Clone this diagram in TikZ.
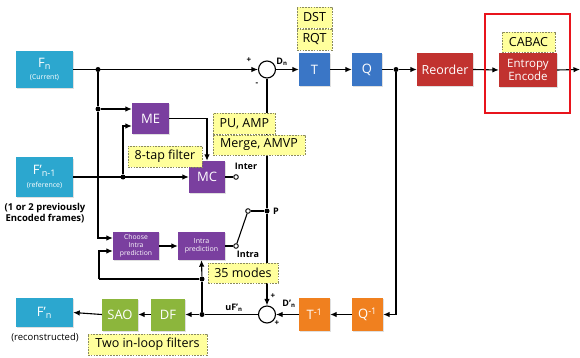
\documentclass[tikz,border=0pt]{standalone}
\usepackage{fontspec}
\setmainfont{Open Sans}
\usetikzlibrary{arrows.meta,shadows,calc}

\definecolor{cyanbox}{HTML}{2CA7CF}
\definecolor{purplebox}{HTML}{7A3F9F}
\definecolor{bluebox}{HTML}{3A76C6}
\definecolor{redbox}{HTML}{C1322F}
\definecolor{orangebox}{HTML}{F0801F}
\definecolor{greenbox}{HTML}{8CB63C}
\definecolor{notefill}{HTML}{FFFF9C}
\definecolor{noteline}{HTML}{8A8A60}
\definecolor{framered}{HTML}{E8141C}

% font size with a baseline skip of 1.15 times the size
\newcommand{\fs}[1]{\fontsize{#1}{\fpeval{1.15*#1}}\selectfont}

\begin{document}
\begin{tikzpicture}[x=1pt,y=-1pt,
  block/.style={rectangle, inner sep=0pt, text=white, align=center,
    drop shadow={opacity=0.25, shadow xshift=1.2pt, shadow yshift=-1.2pt}},
  cyanblock/.style={block, fill=cyanbox},
  purpleblock/.style={block, fill=purplebox},
  blueblock/.style={block, fill=bluebox},
  redblock/.style={block, fill=redbox},
  orangeblock/.style={block, fill=orangebox},
  greenblock/.style={block, fill=greenbox},
  note/.style={rectangle, draw=noteline, dashed, line width=0.8pt,
    dash pattern=on 1.6pt off 1.2pt, fill=notefill, inner sep=0pt, text=black, font=\fs{12.5}},
  wire/.style={line width=1.1pt},
  arr/.style={wire, -{Latex[length=6.5pt,width=5.5pt]}},
  dot/.style={circle, fill=black, inner sep=0pt, minimum size=5pt},
  opendot/.style={circle, draw=black, fill=white, inner sep=0pt, minimum size=4.6pt, line width=0.9pt},
  sumnode/.style={circle, draw=black, fill=white, line width=1.1pt, minimum size=17pt, inner sep=0pt},
  lbl/.style={inner sep=0pt, font=\bfseries\fs{9}},
]
\useasboundingbox (0,0) rectangle (580,358);

% ---------- frame buffers ----------
\node[cyanblock, minimum width=57pt, minimum height=37pt] (fn) at (44.5,69.5)
  {\fs{13}F\textsubscript{n}\\\fs{7}(Current)};
\node[cyanblock, minimum width=57pt, minimum height=39pt] (fref) at (44.5,177)
  {\fs{13}F'\textsubscript{n-1}\\[1pt]\fs{7}(reference)};
\node[cyanblock, minimum width=57pt, minimum height=29pt] (frec) at (44.5,312.5)
  {\fs{13}F'\textsubscript{n}};
\node[inner sep=0pt, align=center, font=\bfseries\fs{9.5}] (prevtxt) at (45,213)
  {(1 or 2 previously\\Encoded frames)};
\node[inner sep=0pt, font=\fs{9.5}] (rectxt) at (45,338) {(reconstructed)};

% ---------- prediction ----------
\node[purpleblock, minimum width=37pt, minimum height=31pt, font=\fs{13}] (me) at (150.5,118.5) {ME};
\node[purpleblock, minimum width=36pt, minimum height=32pt, font=\fs{13}] (mc) at (207,177) {MC};
\node[purpleblock, minimum width=46pt, minimum height=28pt, font=\fs{6.8}] (choose) at (136,246)
  {Choose\\Intra\\prediction};
\node[purpleblock, minimum width=47pt, minimum height=28pt, font=\fs{7}] (intra) at (201.5,246)
  {Intra\\prediction};

% ---------- forward path ----------
\node[sumnode] (sum1) at (267,69.5) {};
\node[blueblock, minimum width=31pt, minimum height=33pt, font=\fs{13}] (t) at (314.5,69.5) {T};
\node[blueblock, minimum width=30pt, minimum height=33pt, font=\fs{13}] (q) at (367,69.5) {Q};
\node[redblock, minimum width=56pt, minimum height=33pt, font=\fs{12.5}] (reorder) at (445,69.5) {Reorder};
\node[redblock, minimum width=58pt, minimum height=34pt, font=\fs{11.5}] (entropy) at (528,70)
  {Entropy\\Encode};
\coordinate (out) at (580,69.5);

% ---------- reconstruction path ----------
\node[sumnode] (sum2) at (267,314.5) {};
\node[orangeblock, minimum width=31pt, minimum height=33pt, font=\fs{13}] (qinv) at (367.5,314.5) {Q\textsuperscript{-1}};
\node[orangeblock, minimum width=31pt, minimum height=33pt, font=\fs{13}] (tinv) at (314.5,314.5) {T\textsuperscript{-1}};
\node[greenblock, minimum width=34pt, minimum height=32pt, font=\fs{13}] (df) at (168,314.5) {DF};
\node[greenblock, minimum width=36pt, minimum height=32pt, font=\fs{13}] (sao) at (120,314.5) {SAO};

% ---------- junctions ----------
\node[dot] (j1) at (98,69.5) {};
\node[dot] (j2) at (98,109) {};
\node[dot] (j3) at (123,177) {};
\node[dot] (jp) at (267,211) {};
\node[opendot] (interpt) at (236,177) {};
\node[opendot] (swpt) at (248,211) {};
\node[opendot] (intrapt) at (236,246) {};
\node[dot] (j4) at (202,314.5) {};
\node[dot] (j5) at (202,279) {};
\node[dot] (j6) at (396,69.5) {};
\coordinate (loopcorner) at (99,279);
\coordinate (downcorner) at (396,314.5);

% ---------- connectors ----------
\draw[arr] (fn.east) -- (sum1.west);
\draw[arr] (sum1.east) -- (t.west);
\draw[arr] (t.east) -- (q.west);
\draw[wire] (q.east) -- (j6);
\draw[arr] (j6) -- (reorder.west);
\draw[arr] (reorder.east) -- (entropy.west);
\draw[arr] (entropy.east) -- (out);

\draw[wire] (j1) -- (j2);
\draw[arr] (j2) |- (choose.west |- 0,238);
\draw[arr] (j2) -- (me.west |- j2);
\draw[arr] (fref.east) -- (mc.west);
\draw[arr] (j3) |- (me.west |- 0,126);
\draw[arr] (me.east) -| (mc.north);
\draw[wire] (mc.east) -- (interpt);

\draw[wire] (sum1.south) -- (jp);
\draw[arr] (jp) -- (sum2.north);
\draw[wire] (jp) -- (swpt);
\draw[wire] (swpt) -- (intrapt);
\draw[wire] (intra.east) -- (intrapt);
\draw[arr] (choose.east) -- (intra.west);

\draw[wire] (j6) -- (downcorner);
\draw[arr] (downcorner) -- (qinv.east);
\draw[arr] (qinv.west) -- (tinv.east);
\draw[arr] (tinv.west) -- (sum2.east);
\draw[wire] (sum2.west) -- (j4);
\draw[arr] (j4) -- (df.east);
\draw[arr] (df.west) -- (sao.east);
\draw[arr] (sao.west) -- (frec.east);
\draw[wire] (j4) -- (j5);
\draw[arr] (j5) -- (intra.south);
\draw[wire] (j5) -- (loopcorner);
\draw[arr] (loopcorner) |- (choose.west |- 0,251);

% ---------- signal labels ----------
\node[lbl, font=\bfseries\fs{8}] (plus1) at (249,60) {+};
\node[lbl, font=\bfseries\fs{8}] (minus1) at (257,84) {-};
\node[lbl] (dn) at (282,62) {D\textsubscript{n}};
\node[lbl, font=\bfseries\fs{8}] (plus2) at (273,296) {+};
\node[lbl, font=\bfseries\fs{8}] (plus3) at (277,323) {+};
\node[lbl] (dpn) at (289,304) {D'\textsubscript{n}};
\node[lbl] (ufn) at (234,308) {uF'\textsubscript{n}};
\node[lbl] (intertxt) at (246,166) {Inter};
\node[lbl] (intratxt) at (248,254) {Intra};
\node[lbl] (ptxt) at (276,211) {P};

% ---------- annotations ----------
\node[note, minimum width=35pt, minimum height=21pt] (dst) at (314.5,17.5) {DST};
\node[note, minimum width=35pt, minimum height=21pt] (rqt) at (314.5,39.5) {RQT};
\node[note, minimum width=53pt, minimum height=20pt] (cabac) at (528.5,42) {CABAC};
\node[note, minimum width=62pt, minimum height=21pt, anchor=west] (puamp) at (213,123.5) {PU, AMP};
\node[note, minimum width=92pt, minimum height=20pt] (merge) at (259,145) {Merge, AMVP};
\node[note, minimum width=74pt, minimum height=21pt] (tap) at (165,156.5) {8-tap filter};
\node[note, minimum width=70pt, minimum height=20pt] (modes) at (243,273) {35 modes};
\node[note, minimum width=119pt, minimum height=21pt] (loopf) at (147.5,344.5) {Two in-loop filters};

% highlight frame around the entropy coder
\draw[framered, line width=1.5pt] (485,14) rectangle (570,113);
\end{tikzpicture}
\end{document}
